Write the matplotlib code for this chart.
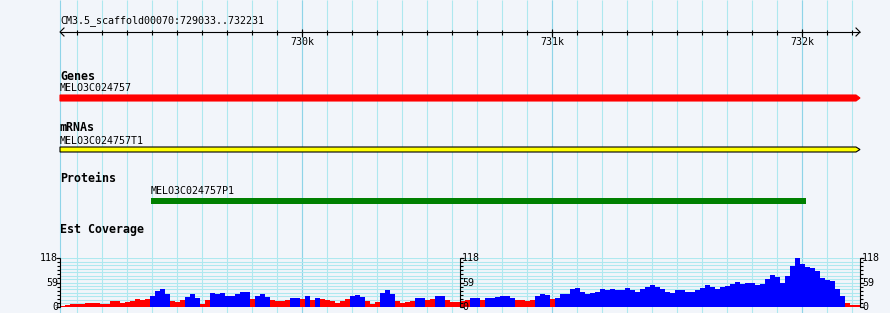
import numpy as np
import matplotlib.pyplot as plt

# region shown
start, end = 729033, 732231
title = 'CM3.5_scaffold00070:729033..732231'
major_ticks = [730000, 731000, 732000]
major_labels = ['730k', '731k', '732k']
minor_ticks = np.arange(729100, 732231, 100)

# features
gene_name = 'MELO3C024757'
gene_span = (729033, 732231)
mrna_name = 'MELO3C024757T1'
mrna_span = (729033, 732231)
protein_name = 'MELO3C024757P1'
protein_span = (729397, 732015)

# est coverage, 20 bp bins from region start
cov_bin = 20
coverage = [1, 3, 6, 6, 7, 8, 10, 8, 6, 6,
            13, 14, 10, 12, 15, 18, 17, 18, 25, 38,
            43, 30, 15, 12, 16, 24, 30, 22, 6, 16,
            33, 32, 33, 27, 26, 30, 37, 35, 18, 27,
            30, 24, 16, 14, 13, 16, 22, 21, 18, 26,
            17, 21, 18, 17, 14, 10, 15, 18, 26, 28,
            24, 14, 7, 12, 34, 40, 30, 13, 10, 11,
            15, 22, 20, 16, 18, 25, 26, 17, 12, 12,
            14, 16, 22, 21, 16, 22, 22, 24, 26, 27,
            22, 16, 16, 15, 16, 26, 32, 28, 19, 20,
            32, 32, 44, 46, 36, 32, 34, 37, 42, 40,
            42, 41, 40, 46, 40, 36, 43, 48, 52, 49,
            43, 36, 34, 40, 40, 37, 36, 40, 46, 54,
            48, 42, 48, 50, 55, 61, 56, 57, 58, 52,
            56, 68, 78, 72, 58, 76, 100, 118, 104, 98,
            94, 86, 70, 64, 62, 44, 26, 10, 3, 4]
cov_max = 118
cov_labels = [0, 59, 118]
pivot = 20

bg = '#f2f5fa'
grid = '#aee8ef'
grid_dark = '#8fd4e8'
mono = 'DejaVu Sans Mono'
lw = 0.8

W, H = 890, 313
bpp = (end - start) / 800.0  # bp per pixel

fig = plt.figure(figsize=(W / 100, H / 100), dpi=100, facecolor=bg)
ax = fig.add_axes([0, 0, 1, 1])
ax.set_xlim(start - 60 * bpp, start + 830 * bpp)
ax.set_ylim(H, 0)
ax.axis('off')

# vertical grid
ax.vlines(minor_ticks, 0, H, color=grid, lw=lw, zorder=0)
ax.vlines([start] + major_ticks, 0, H, color=grid_dark, lw=lw, zorder=0)

# ruler
ax.text(start, 20.5, title, family=mono, fontsize=7.2, ha='left', va='center')
ax.hlines(32, start, end, color='k', lw=lw)
ax.vlines(minor_ticks, 30, 35, color='k', lw=lw)
ax.vlines(major_ticks, 29, 36.5, color='k', lw=lw)
for t, lab in zip(major_ticks, major_labels):
    ax.text(t, 42, lab, family=mono, fontsize=7.2, ha='center', va='center')
ax.plot([start + 4 * bpp, start, start + 4 * bpp], [28, 32, 36], color='k', lw=lw)
ax.plot([end - 4 * bpp, end, end - 4 * bpp], [28, 32, 36], color='k', lw=lw)


def track_label(y, s):
    ax.text(start, y, s, family=mono, fontsize=8.4, fontweight='bold', ha='left', va='center')


def arrow_bar(span, y0, y1, face, edge):
    a, b = span
    xs = [a, b - 4 * bpp, b, b - 4 * bpp, a]
    ys = [y0, y0, (y0 + y1) / 2, y1, y1]
    ax.fill(xs, ys, facecolor=face, edgecolor=edge, lw=lw, zorder=3)


# genes
track_label(76, 'Genes')
ax.text(gene_span[0], 88, gene_name, family=mono, fontsize=7.2, ha='left', va='center')
arrow_bar(gene_span, 95, 101, 'red', 'red')

# mrnas
track_label(127.5, 'mRNAs')
ax.text(mrna_span[0], 140.5, mrna_name, family=mono, fontsize=7.2, ha='left', va='center')
arrow_bar(mrna_span, 147, 152, 'yellow', 'black')

# proteins
track_label(179, 'Proteins')
ax.text(protein_span[0], 191, protein_name, family=mono, fontsize=7.2, ha='left', va='center')
ax.fill([protein_span[0], protein_span[1], protein_span[1], protein_span[0]],
        [198, 198, 204, 204], color='green', lw=0, zorder=3)

# est coverage
track_label(230, 'Est Coverage')
cax = fig.add_axes([60 / W, (H - 306.7) / H, 800 / W, 48.4 / H])
cax.set_xlim(start, end)
cax.set_ylim(0, cov_max)
cax.axis('off')
cax.patch.set_alpha(0)

cax.hlines(np.linspace(0, cov_max, 15), start, end, color=grid, lw=lw, zorder=0)
cov = np.array(coverage)
xs = start + cov_bin * np.arange(len(cov))
colors = np.where(cov >= pivot, '#0000ff', '#ff0000')
cax.bar(xs, cov, width=cov_bin, align='edge', color=colors, lw=0, zorder=2)

mid = (start + end) / 2
ticks = np.linspace(0, cov_max, 13)
for xa, side in [(start, -1), (mid, 1), (end, 1)]:
    cax.vlines(xa, 0, cov_max, color='k', lw=lw, clip_on=False, zorder=4)
    cax.hlines(ticks, xa, xa + side * 3 * bpp, color='k', lw=lw, clip_on=False, zorder=4)
    cax.hlines(cov_labels, xa, xa + side * 4 * bpp, color='k', lw=lw, clip_on=False, zorder=4)
    for v in cov_labels:
        cax.text(xa + side * 2 * bpp, v, str(v), family=mono, fontsize=7.2,
                 ha='right' if side < 0 else 'left', va='center', clip_on=False, zorder=5)

fig.savefig('out.png', dpi=100, facecolor=bg)
